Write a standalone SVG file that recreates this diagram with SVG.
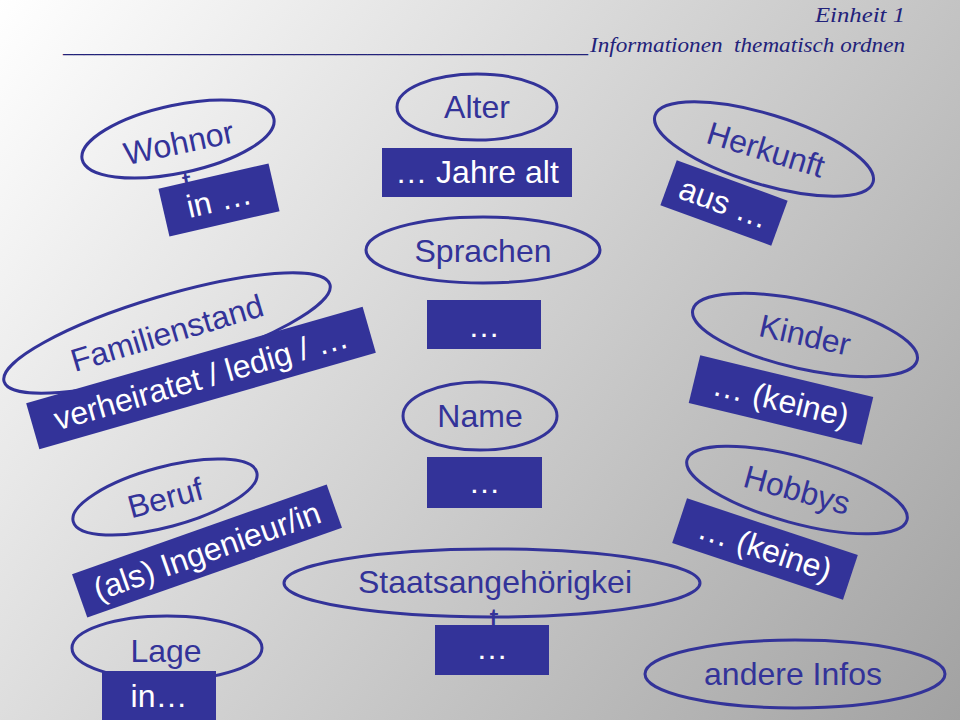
<svg xmlns="http://www.w3.org/2000/svg" width="960" height="720" viewBox="0 0 960 720">
<defs>
<linearGradient id="bg" gradientUnits="userSpaceOnUse" x1="0" y1="0" x2="960" y2="720">
<stop offset="0" stop-color="#ffffff"/>
<stop offset="1" stop-color="#a2a2a2"/>
</linearGradient>
</defs>
<style>
.oval{fill:none;stroke:#333399;stroke-width:3}
.box{fill:#333399}
.lbl{font-family:"Liberation Sans",Arial,sans-serif;font-size:32px;fill:#333399;text-anchor:middle}
.val{font-family:"Liberation Sans",Arial,sans-serif;font-size:32px;fill:#ffffff;text-anchor:middle}
.hdr{font-family:"Liberation Serif","Times New Roman",serif;font-style:italic;font-size:21px;fill:#22227a;white-space:pre}
</style>
<rect width="960" height="720" fill="url(#bg)"/>
<g id="header">
<text class="hdr" x="905" y="22" text-anchor="end" textLength="90" lengthAdjust="spacingAndGlyphs">Einheit 1</text>
<text class="hdr" x="63" y="52" textLength="525" lengthAdjust="spacingAndGlyphs">__________________________________________________</text>
<text class="hdr" x="905" y="52" text-anchor="end" textLength="315" lengthAdjust="spacingAndGlyphs">Informationen  thematisch ordnen</text>
</g>
<g id="connectors"></g>
<g id="wohnort" transform="translate(178,139) rotate(-12)">
<ellipse class="oval" rx="98" ry="34"/>
<text class="lbl" x="0" y="15">Wohnor<tspan x="0" dy="40">t</tspan></text>
</g>
<g id="wohnort-wert" transform="translate(219,200) rotate(-13)">
<rect class="box" x="-56.5" y="-24.5" width="113" height="49"/>
<text class="val" x="0" y="11">in …</text>
</g>
<g id="alter" transform="translate(477,107)">
<ellipse class="oval" rx="80" ry="33"/>
<text class="lbl" x="0" y="11">Alter</text>
</g>
<g id="alter-wert">
<rect class="box" x="382" y="148" width="190" height="49"/>
<text class="val" x="477" y="183">… Jahre alt</text>
</g>
<g id="herkunft" transform="translate(764,149) rotate(17)">
<ellipse class="oval" rx="114" ry="35"/>
<text class="lbl" x="2" y="11">Herkunft</text>
</g>
<g id="herkunft-wert" transform="translate(724,203) rotate(20)">
<rect class="box" x="-59" y="-24" width="118" height="48"/>
<text class="val" x="0" y="11">aus …</text>
</g>
<g id="sprachen" transform="translate(483,250)">
<ellipse class="oval" rx="117" ry="33"/>
<text class="lbl" x="0" y="12">Sprachen</text>
</g>
<g id="sprachen-wert">
<rect class="box" x="427" y="300" width="114" height="49"/>
<text class="val" x="484" y="337">…</text>
</g>
<g id="familienstand" transform="translate(167,333) rotate(-16.6)">
<ellipse class="oval" rx="170" ry="37"/>
<text class="lbl" x="0" y="11">Familienstand</text>
</g>
<g id="familienstand-wert" transform="translate(201,378) rotate(-16)">
<rect class="box" x="-175" y="-24" width="350" height="48"/>
<text class="val" x="0" y="11">verheiratet / ledig / …</text>
</g>
<g id="kinder" transform="translate(805,335) rotate(12.6)">
<ellipse class="oval" rx="115" ry="34"/>
<text class="lbl" x="0" y="11">Kinder</text>
</g>
<g id="kinder-wert" transform="translate(781,400) rotate(13.6)">
<rect class="box" x="-89" y="-24.5" width="178" height="49"/>
<text class="val" x="0" y="11">… (keine)</text>
</g>
<g id="name" transform="translate(480,416)">
<ellipse class="oval" rx="77" ry="34"/>
<text class="lbl" x="0" y="11">Name</text>
</g>
<g id="name-wert">
<rect class="box" x="427" y="457" width="115" height="51"/>
<text class="val" x="484.5" y="493">…</text>
</g>
<g id="beruf" transform="translate(165,497) rotate(-15)">
<ellipse class="oval" rx="95" ry="30"/>
<text class="lbl" x="0" y="12">Beruf</text>
</g>
<g id="beruf-wert" transform="translate(207,551) rotate(-19.4)">
<rect class="box" x="-135" y="-23" width="270" height="46"/>
<text class="val" x="0" y="11">(als) Ingenieur/in</text>
</g>
<g id="hobbys" transform="translate(797,490) rotate(15.3)">
<ellipse class="oval" rx="114" ry="33"/>
<text class="lbl" x="0" y="11">Hobbys</text>
</g>
<g id="hobbys-wert" transform="translate(765,549) rotate(18.4)">
<rect class="box" x="-90" y="-23.5" width="180" height="47"/>
<text class="val" x="0" y="11">… (keine)</text>
</g>
<g id="staatsangehoerigkeit" transform="translate(492,583)">
<ellipse class="oval" rx="208" ry="34"/>
<text class="lbl" x="3" y="10">Staatsangehörigkei<tspan x="2" dy="37">t</tspan></text>
</g>
<g id="staatsangehoerigkeit-wert">
<rect class="box" x="435" y="625" width="114" height="50"/>
<text class="val" x="492" y="659" font-size="30">…</text>
</g>
<g id="lage" transform="translate(167,648)">
<ellipse class="oval" rx="95" ry="32"/>
<text class="lbl" x="-1" y="14">Lage</text>
</g>
<g id="lage-wert">
<rect class="box" x="102" y="671" width="114" height="60"/>
<text class="val" x="159" y="707">in…</text>
</g>
<g id="andere-infos" transform="translate(795,674)">
<ellipse class="oval" rx="150" ry="34"/>
<text class="lbl" x="-2" y="11">andere Infos</text>
</g>
</svg>
